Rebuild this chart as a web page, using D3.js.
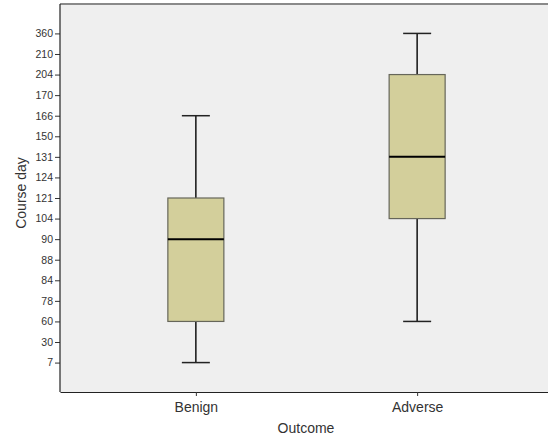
<!DOCTYPE html>
<html>
<head>
<meta charset="utf-8">
<script src="https://cdn.jsdelivr.net/npm/d3@7"></script>
<style>
  html, body { margin: 0; padding: 0; background: #fff; }
  svg { display: block; }
</style>
</head>
<body>
<svg id="chart" width="548" height="436"></svg>
<script>
// Y axis: ordered course-day levels, drawn evenly spaced
const dayLevels = [7, 30, 60, 78, 84, 88, 90, 104, 121, 124, 131, 150, 166, 170, 204, 210, 360];

// Outcome groups and their five-number summaries (course day)
const outcomes = ["Benign", "Adverse"];
const whiskerLow  = [7, 60];
const quartile1   = [60, 104];
const medians     = [90, 131];
const quartile3   = [121, 204];
const whiskerHigh = [166, 360];

const svg = d3.select("#chart");
const margin = { left: 60, top: 4, right: -5, bottom: 392 };

const x = d3.scalePoint()
  .domain(outcomes)
  .range([margin.left, 548 - margin.right])
  .padding(0.614);

const y = d3.scalePoint()
  .domain(dayLevels)
  .range([margin.bottom, margin.top])
  .padding(1.43);

// plot background
svg.append("rect")
  .attr("x", margin.left).attr("y", margin.top)
  .attr("width", 548 - margin.right - margin.left)
  .attr("height", margin.bottom - margin.top)
  .attr("fill", "#efefef");

// top frame line
svg.append("line")
  .attr("x1", margin.left).attr("x2", 548)
  .attr("y1", margin.top).attr("y2", margin.top)
  .attr("stroke", "#8a8a8a").attr("stroke-width", 2);

// Y axis
const yAxis = svg.append("g")
  .attr("transform", `translate(${margin.left},0)`)
  .call(d3.axisLeft(y).tickSize(5).tickPadding(2).tickSizeOuter(0));
yAxis.select(".domain").remove();
yAxis.selectAll(".tick line").attr("stroke", "#333");
yAxis.selectAll(".tick text")
  .attr("font-family", "Liberation Sans, Arial, sans-serif")
  .attr("font-size", 10.5).attr("fill", "#333");
svg.append("line")
  .attr("x1", margin.left).attr("x2", margin.left)
  .attr("y1", margin.top).attr("y2", margin.bottom)
  .attr("stroke", "#222").attr("stroke-width", 1.2);

// X axis
const xAxis = svg.append("g")
  .attr("transform", `translate(0,${margin.bottom})`)
  .call(d3.axisBottom(x).tickSize(4).tickPadding(6).tickSizeOuter(0));
xAxis.select(".domain").attr("stroke", "#222").attr("stroke-width", 1.2);
xAxis.selectAll(".tick line").attr("stroke", "#333");
xAxis.selectAll(".tick text")
  .attr("font-family", "Liberation Sans, Arial, sans-serif")
  .attr("font-size", 14).attr("fill", "#333");

// axis titles
svg.append("text")
  .attr("x", 306).attr("y", 433)
  .attr("text-anchor", "middle")
  .attr("font-family", "Liberation Sans, Arial, sans-serif")
  .attr("font-size", 14).attr("fill", "#333")
  .text("Outcome");
svg.append("text")
  .attr("transform", "translate(26,193) rotate(-90)")
  .attr("text-anchor", "middle")
  .attr("font-family", "Liberation Sans, Arial, sans-serif")
  .attr("font-size", 14).attr("fill", "#333")
  .text("Course day");

// boxes
const boxW = 56, capW = 28;
const groups = svg.append("g").selectAll("g")
  .data(outcomes.map((o, i) => ({
    o, lo: whiskerLow[i], q1: quartile1[i], med: medians[i], q3: quartile3[i], hi: whiskerHigh[i]
  })))
  .join("g")
  .attr("transform", d => `translate(${x(d.o)},0)`);

groups.append("line")
  .attr("x1", 0).attr("x2", 0)
  .attr("y1", d => y(d.hi)).attr("y2", d => y(d.q3))
  .attr("stroke", "#111").attr("stroke-width", 1.5);
groups.append("line")
  .attr("x1", 0).attr("x2", 0)
  .attr("y1", d => y(d.q1)).attr("y2", d => y(d.lo))
  .attr("stroke", "#111").attr("stroke-width", 1.5);
groups.append("line")
  .attr("x1", -capW / 2).attr("x2", capW / 2)
  .attr("y1", d => y(d.hi)).attr("y2", d => y(d.hi))
  .attr("stroke", "#222").attr("stroke-width", 1.5);
groups.append("line")
  .attr("x1", -capW / 2).attr("x2", capW / 2)
  .attr("y1", d => y(d.lo)).attr("y2", d => y(d.lo))
  .attr("stroke", "#222").attr("stroke-width", 1.5);
groups.append("rect")
  .attr("x", -boxW / 2).attr("width", boxW)
  .attr("y", d => y(d.q3))
  .attr("height", d => y(d.q1) - y(d.q3))
  .attr("fill", "#d3cf9b")
  .attr("stroke", "#66665a").attr("stroke-width", 1.2);
groups.append("line")
  .attr("x1", -boxW / 2).attr("x2", boxW / 2)
  .attr("y1", d => y(d.med)).attr("y2", d => y(d.med))
  .attr("stroke", "#000").attr("stroke-width", 2);
</script>
</body>
</html>
